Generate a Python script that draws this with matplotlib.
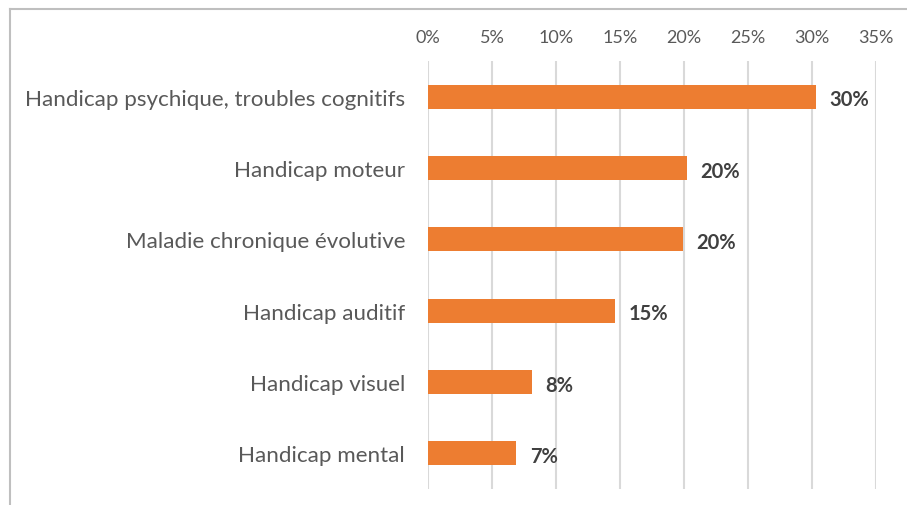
import numpy as np
import matplotlib
matplotlib.use("Agg")
import matplotlib.pyplot as plt
from matplotlib.lines import Line2D

categories = [
    "Handicap psychique, troubles cognitifs",
    "Handicap moteur",
    "Maladie chronique évolutive",
    "Handicap auditif",
    "Handicap visuel",
    "Handicap mental",
]
values = [0.303, 0.202, 0.199, 0.146, 0.081, 0.069]
value_labels = ["30%", "20%", "20%", "15%", "8%", "7%"]
ticks = [0, 0.05, 0.10, 0.15, 0.20, 0.25, 0.30, 0.35]
tick_labels = ["0%", "5%", "10%", "15%", "20%", "25%", "30%", "35%"]

plt.rcParams["font.family"] = ["Lato", "DejaVu Sans"]

W, H = 907, 506
fig = plt.figure(figsize=(W / 100, H / 100), dpi=100)
ax = fig.add_axes([428 / W, 1 - 490 / H, (876 - 428) / W, (490 - 62) / H])

y = np.arange(len(categories))
ax.barh(y, values, height=0.34, color="#ed7d31", zorder=3)

ax.set_xlim(0, 0.35)
ax.set_ylim(len(categories) - 0.5, -0.5)
ax.set_xticks(ticks)
ax.set_xticklabels(tick_labels)
ax.set_yticks(y)
ax.set_yticklabels(categories)
ax.xaxis.tick_top()
ax.tick_params(axis="x", length=0, pad=11.5, labelsize=13, labelcolor="#595959")
ax.tick_params(axis="y", length=0, pad=16.5, labelsize=16.1, labelcolor="#595959")
ax.grid(axis="x", color="#d9d9d9", linewidth=1.5, zorder=0)
for s in ax.spines.values():
    s.set_visible(False)

for yi, v, lab in zip(y, values, value_labels):
    ax.annotate(lab, (v, yi), xytext=(10, -2), textcoords="offset points",
                va="center", ha="left", fontsize=14.5, fontweight="bold",
                color="#404040")

# outer chart frame
fig.add_artist(Line2D([10 / W, 10 / W], [1 - 10 / H, 0], color="#bfbfbf", lw=1.5,
                      transform=fig.transFigure))
fig.add_artist(Line2D([10 / W, 1], [1 - 10 / H, 1 - 10 / H], color="#bfbfbf", lw=1.5,
                      transform=fig.transFigure))

fig.savefig("out.png", dpi=100, facecolor="white")
